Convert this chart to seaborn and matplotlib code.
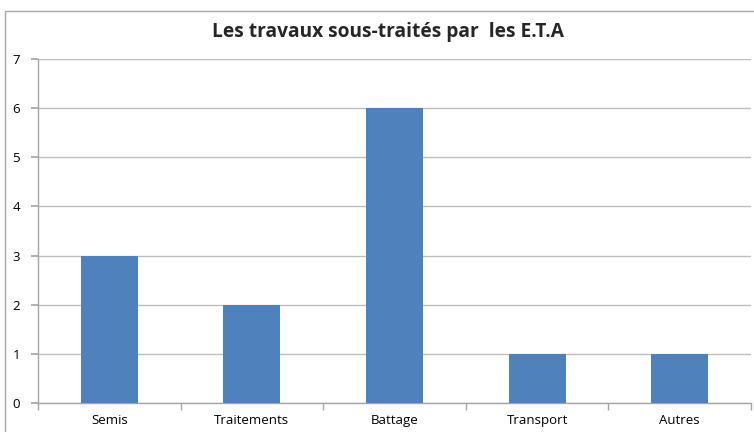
import numpy as np
import pandas as pd
import matplotlib
matplotlib.use("Agg")
import matplotlib.pyplot as plt
import seaborn as sns
from matplotlib.patches import Rectangle
from matplotlib.ticker import FixedLocator

categories = ["Semis", "Traitements", "Battage", "Transport", "Autres"]
counts = [3, 2, 6, 1, 1]
y_ticks = [0, 1, 2, 3, 4, 5, 6, 7]

sns.set_theme(style="white")
plt.rcParams["font.family"] = ["Open Sans", "DejaVu Sans"]

df = pd.DataFrame({"travail": categories, "nombre": counts})

fig = plt.figure(figsize=(7.54, 4.32), dpi=100)
fig.patches.append(Rectangle((5 / 754, -0.05), 1.0, 0.05 + 1 - 11 / 432,
                             transform=fig.transFigure, fill=False,
                             edgecolor="#a6a6a6", linewidth=1.0))
ax = fig.add_axes([38 / 754, 29 / 432, 713 / 754, 344 / 432])

sns.barplot(data=df, x="travail", y="nombre", color="#4F81BD", width=0.4,
            saturation=1, linewidth=0, ax=ax, zorder=3)

ax.set_ylim(0, 7)
ax.set_xlim(-0.5, len(categories) - 0.5)
ax.set_yticks(y_ticks)
ax.yaxis.grid(True, color="#bfbfbf", linewidth=1.0, zorder=0)
ax.set_axisbelow(True)
ax.set_xlabel("")
ax.set_ylabel("")

for side in ["top", "right"]:
    ax.spines[side].set_visible(False)
for side in ["left", "bottom"]:
    ax.spines[side].set_color("#a6a6a6")
    ax.spines[side].set_linewidth(1.0)

ax.xaxis.set_minor_locator(FixedLocator(np.arange(-0.5, len(categories), 1.0)))
ax.tick_params(axis="x", which="major", length=0, labelsize=9.5, pad=8, colors="#000000")
ax.tick_params(axis="x", which="minor", length=5, color="#a6a6a6", direction="out", bottom=True)
ax.tick_params(axis="y", length=5, color="#a6a6a6", direction="out", left=True,
               labelsize=9.5, pad=8, labelcolor="#000000")

fig.text(0.514, 0.925, "Les travaux sous-traités par  les E.T.A", ha="center", va="center",
         fontsize=13.8, fontweight="bold")

fig.savefig("out.png", dpi=100)
